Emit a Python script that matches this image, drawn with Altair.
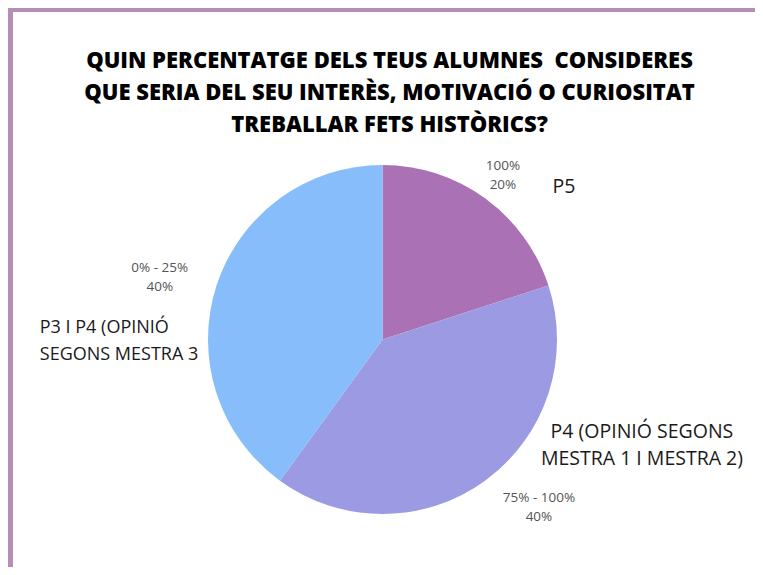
import altair as alt
import pandas as pd

# ---- data ----
keys = ["P5", "P4", "P3"]
categories = ["P5", "P4 (OPINIÓ SEGONS\nMESTRA 1 I MESTRA 2)", "P3 I P4 (OPINIÓ\nSEGONS MESTRA 3"]
percentages = [20, 40, 40]
ranges = ["100%", "75% - 100%", "0% - 25%"]
colors = ["#AA72B5", "#9B9AE2", "#86BDFA"]
title_lines = [
    "QUIN PERCENTATGE DELS TEUS ALUMNES\u00a0 CONSIDERES",
    "QUE SERIA DEL SEU INTERÈS, MOTIVACIÓ O CURIOSITAT",
    "TREBALLAR FETS HISTÒRICS?",
]

df = pd.DataFrame({
    "idx": list(range(len(keys))),
    "key": keys,
    "label": categories,
    "pct": percentages,
    "range": ranges,
})

# ---- layout constants ----
W, H = 747, 559
CX, CY, R = 374.5, 331.5, 174.5
LABEL_R = 210
FRAME = "#B48EB6"
FONT = "Open Sans"

base = alt.Chart(df)

pie = base.mark_arc(radius=R).encode(
    theta=alt.Theta("pct:Q", stack=True),
    order=alt.Order("idx:Q"),
    color=alt.Color("key:N", scale=alt.Scale(domain=keys, range=colors), legend=None),
    x=alt.value(CX),
    y=alt.value(CY),
)

angled = base.transform_joinaggregate(
    total="sum(pct)"
).transform_window(
    cum="sum(pct)", sort=[alt.SortField("idx")], frame=[None, 0]
).transform_calculate(
    mid="(datum.cum - datum.pct / 2) / datum.total * 2 * PI",
    value_text="datum.range + '\\n' + datum.pct + '%'",
)

# per-slice label offsets (value label, category label)
value_offsets = {"P5": (-3, 0), "P4": (33, -7), "P3": (-23, -3)}
cat_style = {
    "P5": (58, 23, "center", 19.5),
    "P4": (136, -71, "center", 19.5),
    "P3": (-143, 58, "left", 18),
}

layers = [pie]
for k in keys:
    dx, dy = value_offsets[k]
    layers.append(
        angled.transform_filter(alt.datum.key == k).mark_text(
            font=FONT, fontSize=13.5, color="#555555", align="center",
            baseline="alphabetic", lineBreak="\n", lineHeight=19, dx=dx, dy=dy,
        ).encode(
            theta=alt.Theta("mid:Q", scale=None, stack=False),
            radius=alt.value(LABEL_R),
            text="value_text:N",
            x=alt.value(CX),
            y=alt.value(CY),
        )
    )
    cdx, cdy, calign, csize = cat_style[k]
    layers.append(
        angled.transform_filter(alt.datum.key == k).mark_text(
            font=FONT, fontSize=csize, color="#1a1a1a", align=calign,
            baseline="alphabetic", lineBreak="\n", lineHeight=27, dx=cdx, dy=cdy,
        ).encode(
            theta=alt.Theta("mid:Q", scale=None, stack=False),
            radius=alt.value(LABEL_R),
            text="label:N",
            x=alt.value(CX),
            y=alt.value(CY),
        )
    )

frame_data = alt.Data(values=[{"f": 1}])
top_rule = alt.Chart(frame_data).mark_rule(color=FRAME, strokeWidth=5).encode(
    x=alt.value(0), x2=alt.value(W), y=alt.value(1.5)
)
left_rule = alt.Chart(frame_data).mark_rule(color=FRAME, strokeWidth=5).encode(
    x=alt.value(2.5), y=alt.value(0), y2=alt.value(H)
)
layers += [top_rule, left_rule]

chart = alt.layer(*layers).properties(
    width=W,
    height=H,
    padding=0,
    autosize=alt.AutoSizeParams(type="none"),
    title=alt.TitleParams(
        text=title_lines, font=FONT, fontSize=22, fontWeight=800, color="#000000",
        anchor="middle", lineHeight=32, offset=-148, baseline="alphabetic", dx=8,
    ),
).configure_view(strokeWidth=0).configure(background="white")

chart.save("out.html", embed_options={"renderer": "svg", "actions": False})
